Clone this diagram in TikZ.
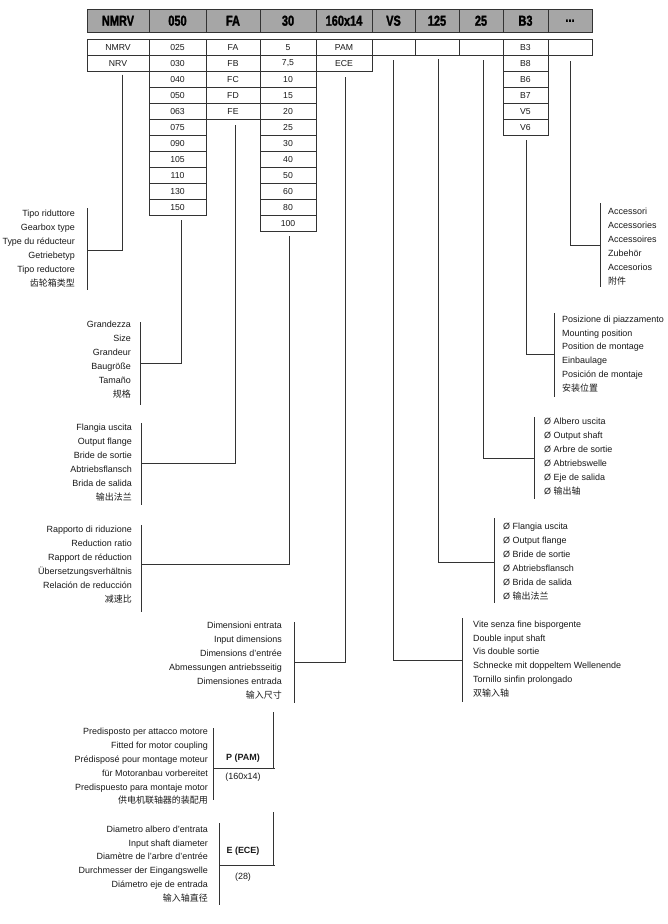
\documentclass[tikz,border=0pt]{standalone}
\usepackage{fontspec}
\setmainfont{Liberation Sans}
\newfontfamily\hdr[FakeStretch=0.76,FakeBold=1.6]{Liberation Sans Bold}
\newfontfamily\cjk{Noto Sans CJK SC}
\definecolor{linec}{HTML}{333333}
\definecolor{txt}{HTML}{1A1A1A}
\definecolor{hdrgray}{HTML}{A6A6A6}
\begin{document}
\begin{tikzpicture}[x=1bp,y=-1bp,
  hcell/.style={draw=linec, fill=hdrgray, line width=0.9bp, minimum height=22.5bp, inner sep=0,
    font=\hdr\fontsize{14.5}{14.5}\selectfont, text=black},
  cell/.style={draw=linec, line width=0.6bp, minimum height=16bp, inner sep=0,
    font=\fontsize{8.7}{10}\selectfont, text=txt},
  lbl/.style={font=\fontsize{9}{13.9}\selectfont, text=txt, inner sep=0},
  lblL/.style={lbl, anchor=west, align=left},
  lblR/.style={lbl, anchor=east, align=right},
  conn/.style={draw=linec, line width=0.7bp}]
\useasboundingbox (0,0) rectangle (668,924);
\fill[white] (0,0) rectangle (668,924);

% header
\node[hcell, minimum width=62bp] (h1) at (118,20.75) {NMRV};
\node[hcell, minimum width=57bp] (h2) at (177.5,20.75) {050};
\node[hcell, minimum width=54bp] (h3) at (233,20.75) {FA};
\node[hcell, minimum width=56bp] (h4) at (288,20.75) {30};
\node[hcell, minimum width=56bp] (h5) at (344,20.75) {160x14};
\node[hcell, minimum width=43bp] (h6) at (393.5,20.75) {VS};
\node[hcell, minimum width=44bp] (h7) at (437,20.75) {125};
\node[hcell, minimum width=44bp] (h8) at (481,20.75) {25};
\node[hcell, minimum width=45bp] (h9) at (525.5,20.75) {B3};
\node[hcell, minimum width=44bp] (h10) at (570,20.75) {...};

% lower table
\foreach \v [count=\i from 0] in {NMRV,NRV}
  \node[cell, minimum width=62bp] (c1-\i) at (118,{47.5+16*\i}) {\v};
\foreach \v [count=\i from 0] in {025,030,040,050,063,075,090,105,110,130,150}
  \node[cell, minimum width=57bp] (c2-\i) at (177.5,{47.5+16*\i}) {\v};
\foreach \v [count=\i from 0] in {FA,FB,FC,FD,FE}
  \node[cell, minimum width=54bp] (c3-\i) at (233,{47.5+16*\i}) {\v};
\foreach \v [count=\i from 0] in {5,{7,5},10,15,20,25,30,40,50,60,80,100}
  \node[cell, minimum width=56bp] (c4-\i) at (288,{47.5+16*\i}) {\v};
\foreach \v [count=\i from 0] in {PAM,ECE}
  \node[cell, minimum width=56bp] (c5-\i) at (344,{47.5+16*\i}) {\v};
\node[cell, minimum width=43bp] (c6-0) at (393.5,47.5) {};
\node[cell, minimum width=44bp] (c7-0) at (437,47.5) {};
\node[cell, minimum width=44bp] (c8-0) at (481,47.5) {};
\foreach \v [count=\i from 0] in {B3,B8,B6,B7,V5,V6}
  \node[cell, minimum width=45bp] (c9-\i) at (525.5,{47.5+16*\i}) {\v};
\node[cell, minimum width=44bp] (c10-0) at (570,47.5) {};

% labels
\node[lblR] (t1) at (75,248.5) {Tipo riduttore\\Gearbox type\\Type du réducteur\\Getriebetyp\\Tipo reductore\\{\cjk 齿轮箱类型}};
\node[lblR] (t2) at (131,359.5) {Grandezza\\Size\\Grandeur\\Baugröße\\Tamaño\\{\cjk 规格}};
\node[lblR] (t3) at (132,462.5) {Flangia uscita\\Output flange\\Bride de sortie\\Abtriebsflansch\\Brida de salida\\{\cjk 输出法兰}};
\node[lblR] (t4) at (132,564.5) {Rapporto di riduzione\\Reduction ratio\\Rapport de réduction\\Übersetzungsverhältnis\\Relación de reducción\\{\cjk 减速比}};
\node[lblR] (t5) at (282,660.5) {Dimensioni entrata\\Input dimensions\\Dimensions d’entrée\\Abmessungen antriebsseitig\\Dimensiones entrada\\{\cjk 输入尺寸}};
\node[lblL] (t6) at (473,659) {Vite senza fine bisporgente\\Double input shaft\\Vis double sortie\\Schnecke mit doppeltem Wellenende\\Tornillo sinfin prolongado\\{\cjk 双输入轴}};
\node[lblL] (t7) at (503,561.5) {Ø Flangia uscita\\Ø Output flange\\Ø Bride de sortie\\Ø Abtriebsflansch\\Ø Brida de salida\\Ø {\cjk 输出法兰}};
\node[lblL] (t8) at (544,456.5) {Ø Albero uscita\\Ø Output shaft\\Ø Arbre de sortie\\Ø Abtriebswelle\\Ø Eje de salida\\Ø {\cjk 输出轴}};
\node[lblL] (t9) at (562,354) {Posizione di piazzamento\\Mounting position\\Position de montage\\Einbaulage\\Posición de montaje\\{\cjk 安装位置}};
\node[lblL] (t10) at (608,246.5) {Accessori\\Accessories\\Accessoires\\Zubehör\\Accesorios\\{\cjk 附件}};
\node[lblR] (t11) at (208,766.5) {Predisposto per attacco motore\\Fitted for motor coupling\\Prédisposé pour montage moteur\\für Motoranbau vorbereitet\\Predispuesto para montaje motor\\{\cjk 供电机联轴器的装配用}};
\node[lblR] (t12) at (208,864) {Diametro albero d’entrata\\Input shaft diameter\\Diamètre de l’arbre d’entrée\\Durchmesser der Eingangswelle\\Diámetro eje de entrada\\{\cjk 输入轴直径}};

\node[lbl, font=\bfseries\fontsize{9}{11}\selectfont] (p1) at (243,758) {P (PAM)};
\node[lbl] (p2) at (243,777) {(160x14)};
\node[lbl, font=\bfseries\fontsize{9}{11}\selectfont] (e1) at (243,851) {E (ECE)};
\node[lbl] (e2) at (243,877) {(28)};

% connector start points, bends, bracket ends
\coordinate (s1) at (122,74.5);  \coordinate (k1) at (87,250);
\coordinate (s2) at (181,220);   \coordinate (k2) at (140,363);
\coordinate (s3) at (235,125);   \coordinate (k3) at (141,463);
\coordinate (s4) at (289,236);   \coordinate (k4) at (141,564);
\coordinate (s5) at (345,77);    \coordinate (k5) at (294,662);
\coordinate (s6) at (393,60);    \coordinate (k6) at (462,660);
\coordinate (s7) at (438,59);    \coordinate (k7) at (494,562);
\coordinate (s8) at (483,60);    \coordinate (k8) at (534,458);
\coordinate (s9) at (526,140);   \coordinate (k9) at (554,354);
\coordinate (s10) at (570,61);   \coordinate (k10) at (600,245);

\foreach \n in {1,...,10} \draw[conn] (s\n) |- (k\n);

% brackets
\draw[conn] (87,208) -- (87,290);
\draw[conn] (140,322) -- (140,405);
\draw[conn] (141,423) -- (141,505);
\draw[conn] (141,525) -- (141,612);
\draw[conn] (294,622) -- (294,703);
\draw[conn] (462,618) -- (462,702);
\draw[conn] (494,518) -- (494,603);
\draw[conn] (534,417) -- (534,499);
\draw[conn] (554,313) -- (554,397);
\draw[conn] (600,203) -- (600,287);

% bottom boxes
\coordinate (pa) at (213,728); \coordinate (pb) at (213,800);
\coordinate (pm) at (213,768); \coordinate (pr) at (275,768);
\coordinate (pt) at (273,712);
\draw[conn] (pa) -- (pb);
\draw[conn] (pm) -- (pr);
\draw[conn] (pt) -- (pt |- pr);
\coordinate (ea) at (219,823); \coordinate (eb) at (219,905);
\coordinate (em) at (219,865); \coordinate (er) at (275,865);
\coordinate (et) at (273,812);
\draw[conn] (ea) -- (eb);
\draw[conn] (em) -- (er);
\draw[conn] (et) -- (et |- er);
\end{tikzpicture}
\end{document}
